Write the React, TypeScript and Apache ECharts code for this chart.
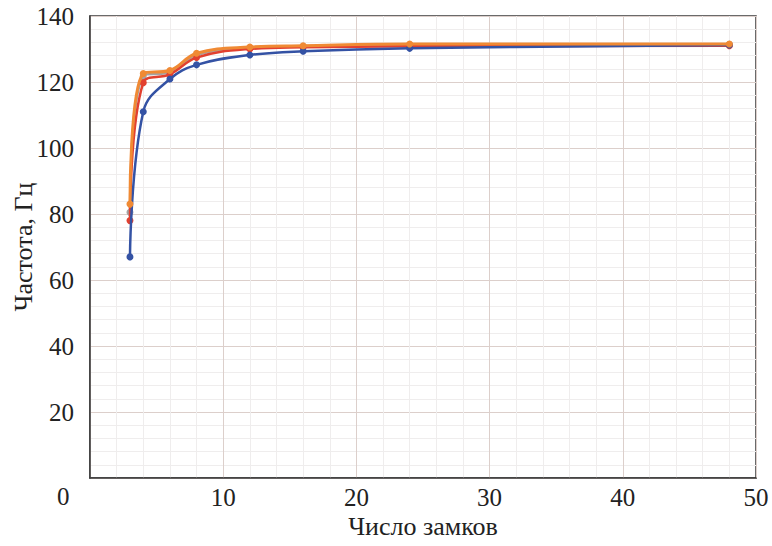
import React, { useEffect, useRef } from "react";
import * as echarts from "echarts";

const locks = [3, 4, 6, 8, 12, 16, 24, 48];
const blueFreq = [67, 111, 120.9, 125.2, 128.2, 129.3, 130.2, 131.2];
const redFreq = [78, 119.8, 122.3, 127.4, 130, 130.5, 130.8, 131];
const grayFreq = [80.5, 121.8, 123, 128.2, 130.3, 130.8, 131.2, 131.4];
const orangeFreq = [83, 122.6, 123.5, 128.7, 130.6, 131, 131.5, 131.5];

const xTicks = [0, 10, 20, 30, 40, 50];
const yTicks = [0, 20, 40, 60, 80, 100, 120, 140];

const FONT = "'Liberation Serif', 'Times New Roman', serif";

function pairs(ys: number[]) {
  return locks.map((x, i) => [x, ys[i]]);
}

export default function App() {
  const ref = useRef<HTMLDivElement>(null);
  useEffect(() => {
    document.body.style.margin = "0";
    if (!ref.current) return;
    const chart = echarts.init(ref.current, undefined, { renderer: "svg" });
    const mk = (name: string, data: number[], color: string, width: number, z: number) => ({
      name,
      type: "line",
      data: pairs(data),
      smooth: 0.4,
      symbol: "circle",
      symbolSize: 7,
      z,
      lineStyle: { color, width },
      itemStyle: { color },
    });
    chart.setOption({
      animation: false,
      backgroundColor: "#ffffff",
      grid: {
        left: 90,
        right: 16,
        top: 16,
        bottom: 68,
        containLabel: false,
        outerBoundsMode: "none",
        show: true,
        borderColor: "#3a3a3a",
        borderWidth: 1.5,
      },
      xAxis: {
        type: "value",
        min: xTicks[0],
        max: xTicks[xTicks.length - 1],
        interval: 10,
        name: "Число замков",
        nameLocation: "middle",
        nameGap: 35,
        nameMoveOverlap: false,
        nameTextStyle: { fontFamily: FONT, fontSize: 26, color: "#222" },
        axisLine: { show: true, lineStyle: { color: "#3a3a3a", width: 1.5 } },
        axisTick: { show: false },
        axisLabel: {
          fontFamily: FONT,
          fontSize: 25,
          color: "#222",
          margin: 7,
          formatter: (v: number) => (v === 0 ? "" : String(v)),
        },
        splitLine: { show: true, lineStyle: { color: "#dccfcb", width: 1 } },
        minorTick: { show: false, splitNumber: 5 },
        minorSplitLine: { show: true, lineStyle: { color: "#efeded", width: 1 } },
      },
      yAxis: {
        type: "value",
        min: yTicks[0],
        max: yTicks[yTicks.length - 1],
        interval: 20,
        name: "Частота, Гц",
        nameLocation: "middle",
        nameGap: 54,
        nameMoveOverlap: false,
        nameTextStyle: { fontFamily: FONT, fontSize: 26, color: "#222" },
        axisLine: { show: true, lineStyle: { color: "#3a3a3a", width: 1.5 } },
        axisTick: { show: false },
        axisLabel: {
          fontFamily: FONT,
          fontSize: 25,
          color: "#222",
          margin: 16,
          formatter: (v: number) => (v === 0 ? "" : String(v)),
        },
        splitLine: { show: true, lineStyle: { color: "#dccfcb", width: 1 } },
        minorTick: { show: false, splitNumber: 5 },
        minorSplitLine: { show: true, lineStyle: { color: "#efeded", width: 1 } },
      },
      graphic: [
        {
          type: "text",
          left: 57,
          top: 484,
          style: { text: "0", font: `25px ${FONT}`, fill: "#222" },
        },
      ],
      series: [
        mk("Серия 1", blueFreq, "#3452a4", 2.5, 4),
        mk("Серия 2", redFreq, "#e2402f", 2.5, 3),
        mk("Серия 3", grayFreq, "#a3a3a3", 2.5, 2),
        mk("Серия 4", orangeFreq, "#f08a34", 3, 5),
      ],
    });
    return () => chart.dispose();
  }, []);
  return <div ref={ref} style={{ width: 772, height: 546 }} />;
}
